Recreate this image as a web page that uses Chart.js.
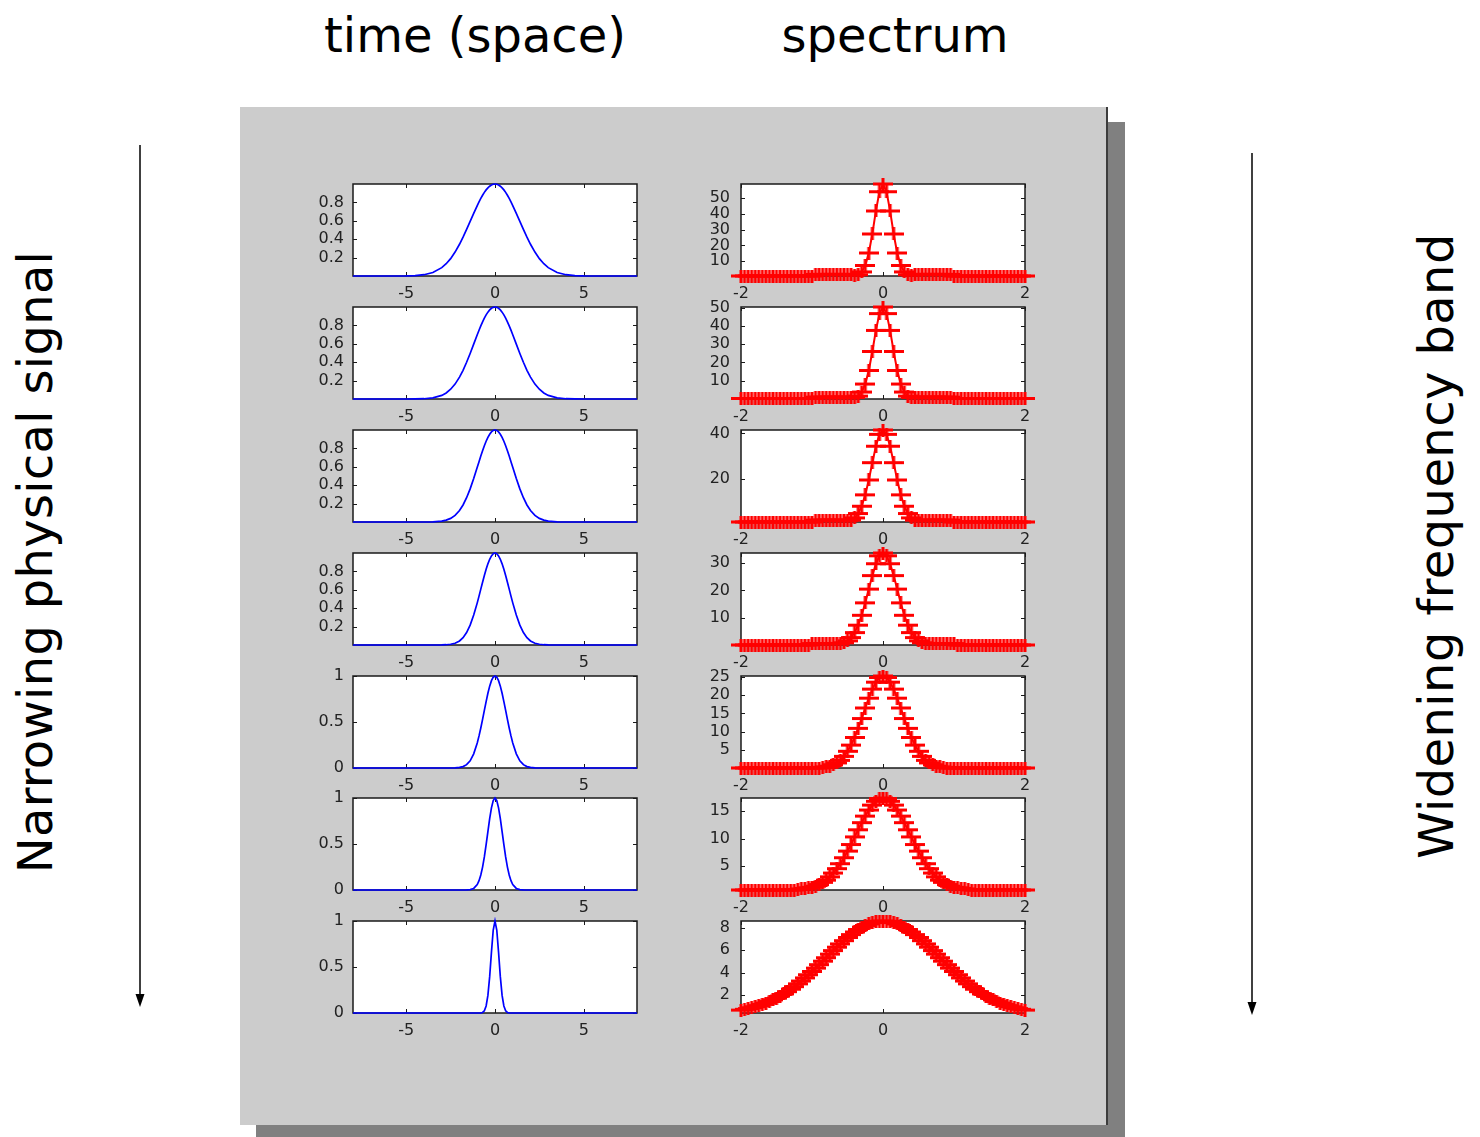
<!DOCTYPE html>
<html>
<head>
<meta charset="utf-8">
<title>time (space) / spectrum</title>
<script src="https://cdn.jsdelivr.net/npm/chart.js@4"></script>
<style>
  html, body { margin: 0; padding: 0; }
  body { width: 1480px; height: 1137px; position: relative; overflow: hidden; background: #fff; font-family: "DejaVu Sans", sans-serif; }
  .abs { position: absolute; }
  #shadow { left: 256px; top: 122px; width: 869px; height: 1015px; background: #808080; }
  #panel { left: 240px; top: 107px; width: 866px; height: 1018px; background: #cccccc; border-right: 2px solid #3c3c3c; }
  .title { font-size: 48px; line-height: 48px; height: 48px; width: 400px; text-align: center; color: #000; white-space: nowrap; }
  .side { font-size: 48px; line-height: 48px; height: 48px; width: 700px; text-align: center; color: #000; white-space: nowrap; transform: rotate(-90deg); transform-origin: 50% 50%; }
  canvas { position: absolute; }
</style>
</head>
<body>
<div id="shadow" class="abs"></div>
<div id="panel" class="abs"></div>

<div class="abs title" style="left:275px; top:11px;">time (space)</div>
<div class="abs title" style="left:695px; top:11px;">spectrum</div>

<div class="abs side" style="left:-315px; top:538px; letter-spacing:0.3px;">Narrowing physical signal</div>
<div class="abs side" style="left:1086px; top:522px; letter-spacing:0.4px;">Widening frequency band</div>

<svg class="abs" style="left:0; top:0;" width="1480" height="1137">
  <line x1="140" y1="145" x2="140" y2="996" stroke="#000" stroke-width="1.5"/>
  <polygon points="135.5,994 144.5,994 140,1007" fill="#000"/>
  <line x1="1252" y1="153" x2="1252" y2="1004" stroke="#000" stroke-width="1.5"/>
  <polygon points="1247.5,1002 1256.5,1002 1252,1015" fill="#000"/>
</svg>

<script>
// sampling grid of the time signals (non uniform, denser near t = 0)
const timeX = [-8,-6,-5,-4.5,-4,-3.5,-3,-2.75,-2.5,-2.25,-2,-1.8,-1.6,-1.4,-1.2,-1,-0.9,-0.8,-0.7,-0.6,-0.5,-0.4,-0.3,-0.2,-0.1,
  0,
  0.1,0.2,0.3,0.4,0.5,0.6,0.7,0.8,0.9,1,1.2,1.4,1.6,1.8,2,2.25,2.5,2.75,3,3.5,4,4.5,5,6,8];

const time1 = [0,0,.0013,.0045,.014,.038,.091,.133,.189,.260,.345,.422,.506,.593,.681,.766,.806,.843,.878,.909,.936,.958,.976,.989,.997,
  1,
  .997,.989,.976,.958,.936,.909,.878,.843,.806,.766,.681,.593,.506,.422,.345,.260,.189,.133,.091,.038,.014,.0045,.0013,0,0];
const time2 = [0,0,0,.001,.003,.012,.039,.066,.106,.162,.238,.312,.399,.495,.596,.698,.748,.795,.839,.879,.914,.944,.968,.986,.996,
  1,
  .996,.986,.968,.944,.914,.879,.839,.795,.748,.698,.596,.495,.399,.312,.238,.162,.106,.066,.039,.012,.003,.001,0,0,0];
const time3 = [0,0,0,0,0,.002,.009,.020,.039,.072,.125,.185,.264,.360,.472,.594,.656,.717,.775,.829,.878,.920,.954,.979,.995,
  1,
  .995,.979,.954,.920,.878,.829,.775,.717,.656,.594,.472,.360,.264,.185,.125,.072,.039,.020,.009,.002,0,0,0,0,0];
const time4 = [0,0,0,0,0,0,.001,.003,.008,.019,.044,.080,.135,.216,.325,.458,.531,.607,.682,.755,.823,.882,.932,.969,.992,
  1,
  .992,.969,.932,.882,.823,.755,.682,.607,.531,.458,.325,.216,.135,.080,.044,.019,.008,.003,.001,0,0,0,0,0,0];
const time5 = [0,0,0,0,0,0,0,0,0,.001,.006,.015,.036,.078,.154,.272,.349,.435,.529,.626,.722,.812,.890,.949,.987,
  1,
  .987,.949,.890,.812,.722,.626,.529,.435,.349,.272,.154,.078,.036,.015,.006,.001,0,0,0,0,0,0,0,0,0];
const time6 = [0,0,0,0,0,0,0,0,0,0,0,0,.001,.004,.017,.059,.101,.163,.249,.360,.492,.635,.775,.893,.972,
  1,
  .972,.893,.775,.635,.492,.360,.249,.163,.101,.059,.017,.004,.001,0,0,0,0,0,0,0,0,0,0,0,0];
const time7 = [0,0,0,0,0,0,0,0,0,0,0,0,0,0,0,0,0,.001,.006,.024,.076,.191,.395,.662,.902,
  1,
  .902,.662,.395,.191,.076,.024,.006,.001,0,0,0,0,0,0,0,0,0,0,0,0,0,0,0,0,0];

const timeTicksX = [-5, 0, 5];
const timeTicksY = [[0.2,0.4,0.6,0.8],[0.2,0.4,0.6,0.8],[0.2,0.4,0.6,0.8],[0.2,0.4,0.6,0.8],[0,0.5,1],[0,0.5,1],[0,0.5,1]];

// frequency grid of the spectra, -2 .. 2
const specX = [-2,-1.95,-1.9,-1.85,-1.8,-1.75,-1.7,-1.65,-1.6,-1.55,-1.5,-1.45,-1.4,-1.35,-1.3,-1.25,-1.2,-1.15,-1.1,-1.05,
  -1,-0.95,-0.9,-0.85,-0.8,-0.75,-0.7,-0.65,-0.6,-0.55,-0.5,-0.45,-0.4,-0.35,-0.3,-0.25,-0.2,-0.15,-0.1,-0.05,
  0,
  0.05,0.1,0.15,0.2,0.25,0.3,0.35,0.4,0.45,0.5,0.55,0.6,0.65,0.7,0.75,0.8,0.85,0.9,0.95,1,
  1.05,1.1,1.15,1.2,1.25,1.3,1.35,1.4,1.45,1.5,1.55,1.6,1.65,1.7,1.75,1.8,1.85,1.9,1.95,2];

const spec1 = [
  0.6,0.6,0.6,0.6,0.6,0.6,0.6, 0.6,0.6,0.6,0.6,0.6,0.6,0.6, 0.6,0.6,0.6,0.6,0.6,0.6,0.6,
  1.6,1.6,1.6,1.6,1.6,1.6,1.6,1.6,1.6,1.6,1.6,
  1.2,1.4,3.2,7.3,15.2,27.3,41.9,54.1,
  59,
  54.1,41.9,27.3,15.2,7.3,3.2,1.4,1.2,
  1.6,1.6,1.6,1.6,1.6,1.6,1.6,1.6,1.6,1.6,1.6,
  0.6,0.6,0.6,0.6,0.6,0.6,0.6, 0.6,0.6,0.6,0.6,0.6,0.6,0.6, 0.6,0.6,0.6,0.6,0.6,0.6,0.6];
const spec2 = [
  0.3,0.3,0.3,0.3,0.3,0.3,0.3, 0.3,0.3,0.3,0.3,0.3,0.3,0.3, 0.3,0.3,0.3,0.3,0.3,0.3,0.3,
  1,1,1,1,1,1,1,1,1,1,1,
  0.9,1.6,3.8,8.2,15.6,26.0,37.5,46.7,
  50.3,
  46.7,37.5,26.0,15.6,8.2,3.8,1.6,0.9,
  1,1,1,1,1,1,1,1,1,1,1,
  0.3,0.3,0.3,0.3,0.3,0.3,0.3, 0.3,0.3,0.3,0.3,0.3,0.3,0.3, 0.3,0.3,0.3,0.3,0.3,0.3,0.3];
const spec3 = [
  1.2,1.2,1.2,1.2,1.2,1.2,1.2, 1.2,1.2,1.2,1.2,1.2,1.2,1.2, 1.2,1.2,1.2,1.2,1.2,1.2,1.2,
  2,2,2,2,2,2,2,2,2,
  1.8,2.0,3.0,4.9,8.1,13.1,19.6,27.2,34.4,39.6,
  41.5,
  39.6,34.4,27.2,19.6,13.1,8.1,4.9,3.0,2.0,1.8,
  2,2,2,2,2,2,2,2,2,
  1.2,1.2,1.2,1.2,1.2,1.2,1.2, 1.2,1.2,1.2,1.2,1.2,1.2,1.2, 1.2,1.2,1.2,1.2,1.2,1.2,1.2];
const spec4 = [
  0.2,0.2,0.2,0.2,0.2,0.2,0.2,0.2,0.2,0.2, 0.2,0.2,0.2,0.2,0.2,0.2,0.2,0.2,0.2,0.2,
  0.7,0.7,0.7,0.7,0.7,0.7,0.7,0.7,
  0.8,1.0,1.7,2.9,4.7,7.4,11.0,15.5,20.5,25.4,29.7,32.6,
  33.6,
  32.6,29.7,25.4,20.5,15.5,11.0,7.4,4.7,2.9,1.7,1.0,0.8,
  0.7,0.7,0.7,0.7,0.7,0.7,0.7,0.7,
  0.2,0.2,0.2,0.2,0.2,0.2,0.2,0.2,0.2,0.2, 0.2,0.2,0.2,0.2,0.2,0.2,0.2,0.2,0.2,0.2];
const spec5 = [
  0,0,0,0,0,0,0,0,0,0,0,0,0,0,0,0,0,0,0,0,0,0,0,
  0.2,0.3,0.5,0.9,1.4,2.1,3.2,4.6,6.3,8.4,10.9,13.6,16.5,19.2,21.7,23.6,24.9,
  25.3,
  24.9,23.6,21.7,19.2,16.5,13.6,10.9,8.4,6.3,4.6,3.2,2.1,1.4,0.9,0.5,0.3,0.2,
  0,0,0,0,0,0,0,0,0,0,0,0,0,0,0,0,0,0,0,0,0,0,0];
const spec6 = [
  0.6,0.6,0.6,0.6,0.6,0.6,0.6,0.6, 0.6,0.6,0.6,0.6,0.6,0.6,0.6,0.6,
  0.7,0.8,0.9,1.0,1.1,1.3,1.6,2.0,2.4,3.0,3.7,4.5,5.4,6.5,7.7,8.9,10.3,11.6,12.9,14.1,15.2,16.1,16.8,17.3,
  17.4,
  17.3,16.8,16.1,15.2,14.1,12.9,11.6,10.3,8.9,7.7,6.5,5.4,4.5,3.7,3.0,2.4,2.0,1.6,1.3,1.1,1.0,0.9,0.8,0.7,
  0.6,0.6,0.6,0.6,0.6,0.6,0.6,0.6, 0.6,0.6,0.6,0.6,0.6,0.6,0.6,0.6];
const spec7 = [
  0.66,0.73,0.79,0.87,0.96,1.06,1.17,1.29,1.42,1.57,1.73,1.91,2.1,2.3,2.52,2.75,3.0,3.25,3.53,3.81,
  4.1,4.4,4.71,5.02,5.33,5.65,5.96,6.27,6.56,6.85,7.13,7.39,7.62,7.84,8.04,8.2,8.34,8.46,8.54,8.58,
  8.6,
  8.58,8.54,8.46,8.34,8.2,8.04,7.84,7.62,7.39,7.13,6.85,6.56,6.27,5.96,5.65,5.33,5.02,4.71,4.4,4.1,
  3.81,3.53,3.25,3.0,2.75,2.52,2.3,2.1,1.91,1.73,1.57,1.42,1.29,1.17,1.06,0.96,0.87,0.79,0.73,0.66];

const specTicksX = [-2, 0, 2];
const specTicksY = [[10,20,30,40,50],[10,20,30,40,50],[20,40],[10,20,30],[5,10,15,20,25],[5,10,15],[2,4,6,8]];
const specMin = [0.6, 0, 1.2, 0.2, 0, 0.6, 0.4];
const specMax = [59, 50.3, 41.5, 33.6, 25.3, 17.4, 8.6];

const timeRows = [time1, time2, time3, time4, time5, time6, time7];
const specRows = [spec1, spec2, spec3, spec4, spec5, spec6, spec7];

// layout of the 7 x 2 grid of axes
const rowTop = [184, 307, 430, 553, 676, 798, 921];
const LEFT_COL = 353, RIGHT_COL = 741;
const PW = 284, PH = 92;
// top padding must exceed the half label height + tick padding chart.js reserves
const PAD_L = 60, PAD_R = 20, PAD_T = 26, PAD_B = 30;

const tickFont = { family: 'DejaVu Sans', size: 16 };
const tickColor = '#222222';

// matlab style box: white area, frame and inward tick marks
const boxPlugin = {
  id: 'box',
  beforeDraw(chart) {
    const { ctx, chartArea: a } = chart;
    ctx.save();
    ctx.fillStyle = '#ffffff';
    ctx.fillRect(a.left, a.top, a.right - a.left, a.bottom - a.top);
    ctx.restore();
  },
  beforeDatasetsDraw(chart) {
    const { ctx, chartArea: a, scales } = chart;
    ctx.save();
    ctx.strokeStyle = '#1a1a1a';
    ctx.lineWidth = 1.5;
    ctx.strokeRect(a.left, a.top, a.right - a.left, a.bottom - a.top);
    ctx.lineWidth = 1;
    ctx.beginPath();
    scales.x.ticks.forEach(t => {
      const px = Math.round(scales.x.getPixelForValue(t.value)) + 0.5;
      ctx.moveTo(px, a.bottom); ctx.lineTo(px, a.bottom - 4);
      ctx.moveTo(px, a.top); ctx.lineTo(px, a.top + 4);
    });
    scales.y.ticks.forEach(t => {
      const py = Math.round(scales.y.getPixelForValue(t.value)) + 0.5;
      ctx.moveTo(a.left, py); ctx.lineTo(a.left + 4, py);
      ctx.moveTo(a.right, py); ctx.lineTo(a.right - 4, py);
    });
    ctx.stroke();
    ctx.restore();
  }
};

// '+' marker of the spectrum plots
function plusMarker() {
  const c = document.createElement('canvas');
  c.width = 20; c.height = 13;
  const g = c.getContext('2d');
  g.fillStyle = '#ff0000';
  g.fillRect(0, 5, 20, 3);
  g.fillRect(8.5, 0, 3, 13);
  return c;
}
const marker = plusMarker();

function axes(xmin, xmax, xticks, ymin, ymax, yticks, ypad) {
  const common = {
    type: 'linear',
    grid: { display: false, drawTicks: false },
    border: { display: false },
    ticks: { font: tickFont, color: tickColor, autoSkip: false, maxRotation: 0, callback: v => String(v) }
  };
  return {
    x: Object.assign({}, common, {
      min: xmin, max: xmax,
      ticks: Object.assign({}, common.ticks, { padding: 8 }),
      afterBuildTicks: s => { s.ticks = xticks.map(v => ({ value: v })); },
      afterFit: s => { s.height = PAD_B; }
    }),
    y: Object.assign({}, common, {
      min: ymin, max: ymax,
      ticks: Object.assign({}, common.ticks, { padding: ypad }),
      afterBuildTicks: s => { s.ticks = yticks.map(v => ({ value: v })); },
      afterFit: s => { s.width = PAD_L; }
    })
  };
}

function addCanvas(left, top) {
  const c = document.createElement('canvas');
  c.width = PW + PAD_L + PAD_R;
  c.height = PH + PAD_T + PAD_B;
  c.style.left = (left - PAD_L) + 'px';
  c.style.top = (top - PAD_T) + 'px';
  document.body.appendChild(c);
  return c;
}

function baseOptions(scales) {
  return {
    responsive: false,
    animation: false,
    devicePixelRatio: 1,
    layout: { padding: { left: 0, right: PAD_R, top: PAD_T, bottom: 0 } },
    plugins: { legend: { display: false }, tooltip: { enabled: false } },
    scales: scales
  };
}

rowTop.forEach((top, i) => {
  // left column: the pulse in time
  new Chart(addCanvas(LEFT_COL, top), {
    type: 'scatter',
    data: {
      datasets: [{
        data: timeX.map((x, k) => ({ x: x, y: timeRows[i][k] })),
        showLine: true,
        borderColor: '#0000ff',
        borderWidth: 1.7,
        pointRadius: 0,
        tension: 0,
        clip: false
      }]
    },
    options: baseOptions(axes(-8, 8, timeTicksX, 0, 1, timeTicksY[i], 9)),
    plugins: [boxPlugin]
  });

  // right column: its spectrum
  new Chart(addCanvas(RIGHT_COL, top), {
    type: 'scatter',
    data: {
      datasets: [{
        data: specX.map((x, k) => ({ x: x, y: specRows[i][k] })),
        showLine: true,
        borderColor: '#ff0000',
        borderWidth: 2,
        pointStyle: marker,
        pointRadius: 8,
        tension: 0,
        clip: false
      }]
    },
    options: baseOptions(axes(-2, 2, specTicksX, specMin[i], specMax[i], specTicksY[i], 11)),
    plugins: [boxPlugin]
  });
});
</script>
</body>
</html>
